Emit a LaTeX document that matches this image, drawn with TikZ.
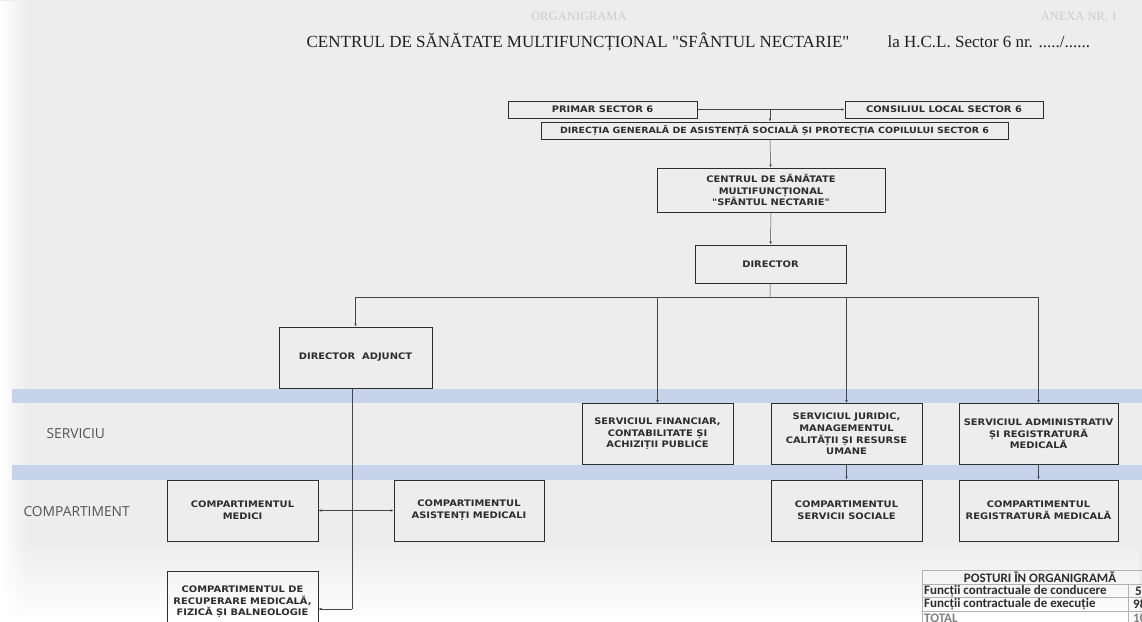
\documentclass[tikz,border=0pt]{standalone}
\usepackage{fontspec}
\setmainfont{Liberation Serif}[Ligatures=TeXOff]
\newfontfamily\boxfont[FakeStretch=1.1, Ligatures=TeXOff]{DejaVu Sans}
\newfontfamily\lblfont{Open Sans}
\newfontfamily\tabfont{Carlito}
\usepackage{tikz}
\usetikzlibrary{arrows.meta, positioning, calc, fadings}
\definecolor{paper}{RGB}{237,237,237}
\definecolor{band}{RGB}{198,211,234}
\definecolor{ink}{RGB}{45,45,45}

\begin{document}
\begin{tikzpicture}[x=1pt, y=-1pt,
  box/.style={draw=ink, line width=1pt, align=center, inner sep=1pt, text=ink,
    font=\boxfont\bfseries\fontsize{9}{11.6}\selectfont},
  unit/.style={box, minimum width=151pt, minimum height=61pt},
  link/.style={draw=gray!55!black, line width=0.5pt},
  tip/.style={link, -{Latex[length=3pt,width=2.6pt]}},
  lbl/.style={font=\lblfont\fontsize{13.8}{16}\selectfont, text=gray!65!black, anchor=west},
  tab/.style={font=\tabfont\bfseries\fontsize{13}{14}\selectfont, text=ink, inner sep=0pt}]
  \useasboundingbox (0,0) rectangle (1142,621);
  \clip (0,0) rectangle (1142,621);
  % paper and bands
  \fill[paper] (0,0) rectangle (1142,621);
  \fill[white, path fading=north] (0,540) rectangle (1142,621);
  \fill[white, path fading=east] (0,0) rectangle (28,621);
  \fill[band] (12,389) rectangle (1142,403);
  \fill[band] (12,465) rectangle (1142,480);

  % header
  \node[text=gray!40, font=\fontsize{12.5}{14}\selectfont] (organigrama) at (579,16) {ORGANIGRAMA};
  \node[text=gray!40, font=\fontsize{12.5}{14}\selectfont, anchor=east] (anexa) at (1121,16) {ANEXA NR. 1};
  \node[text=gray!25!black, font=\fontsize{17}{19}\selectfont] (titlu) at (578,42)
    {CENTRUL DE SĂNĂTATE MULTIFUNCȚIONAL "SFÂNTUL NECTARIE"};
  \node[text=gray!25!black, font=\fontsize{17}{19}\selectfont, anchor=west] (hcl) at (884,42)
    {la H.C.L. Sector 6 nr. ...../......};

  % top of the chart
  \node[box, minimum width=189pt, minimum height=17pt] (primar) at (602.5,109.5) {PRIMAR SECTOR 6};
  \node[box, minimum width=198pt, minimum height=17pt] (consiliul) at (944,109.5) {CONSILIUL LOCAL SECTOR 6};
  \node[box, minimum width=467pt, minimum height=17pt, font=\boxfont\bfseries\fontsize{8.6}{11}\selectfont] (dgaspc) at (774.5,130.5)
    {DIRECȚIA GENERALĂ DE ASISTENȚĂ SOCIALĂ ȘI PROTECȚIA COPILULUI SECTOR 6};
  \node[box, minimum width=228pt, minimum height=44pt] (centrul) at (771,190)
    {CENTRUL DE SĂNĂTATE\\MULTIFUNCȚIONAL\\"SFÂNTUL NECTARIE"};
  \node[box, minimum width=151pt, minimum height=38pt] (director) at (770.5,264) {DIRECTOR};
  \node[box, minimum width=153pt, minimum height=61pt] (adjunct) at (355.5,357.5) {DIRECTOR\ \ ADJUNCT};

  % servicii
  \node[lbl] (serviciu) at (43,434) {SERVICIU};
  \node[unit] (financiar) at (657.5,434) {SERVICIUL FINANCIAR,\\CONTABILITATE ȘI\\ACHIZIȚII PUBLICE};
  \node[unit] (juridic) at (846.5,434) {SERVICIUL JURIDIC,\\MANAGEMENTUL\\CALITĂȚII ȘI RESURSE\\UMANE};
  \node[unit, minimum width=159pt] (admin) at (1038.5,434) {SERVICIUL ADMINISTRATIV\\ȘI REGISTRATURĂ\\MEDICALĂ};

  % compartimente
  \node[lbl] (compartiment) at (20,512) {COMPARTIMENT};
  \node[unit] (medici) at (242.5,510.5) {COMPARTIMENTUL\\MEDICI};
  \node[unit, minimum width=150pt] (asistenti) at (469,510.5) {COMPARTIMENTUL\\ASISTENȚI MEDICALI};
  \node[unit] (sociale) at (846.5,510.5) {COMPARTIMENTUL\\SERVICII SOCIALE};
  \node[unit, minimum width=159pt] (registratura) at (1038.5,510.5) {COMPARTIMENTUL\\REGISTRATURĂ MEDICALĂ};
  \node[unit, minimum height=62pt] (recuperare) at (242.5,602)
    {COMPARTIMENTUL DE\\RECUPERARE MEDICALĂ,\\FIZICĂ ȘI BALNEOLOGIE};

  % connectors
  \coordinate (sus) at (770,109.5);
  \coordinate (bus) at (770,297);
  \coordinate (jos) at (352,609);
  \draw[tip] (primar) -- (consiliul);
  \draw[tip] (sus) -- (sus |- dgaspc.north);
  \draw[tip] (dgaspc.south -| sus) -- (centrul);
  \draw[tip] (centrul) -- (director);
  \draw[link] (director) -- (bus);
  \draw[link] (adjunct.north |- bus) -- (admin.north |- bus);
  \foreach \n in {adjunct, financiar, juridic, admin}
    \draw[tip] (\n.north |- bus) -- (\n.north);
  \draw[tip] (juridic) -- (sociale);
  \draw[tip] (admin) -- (registratura);
  \draw[link] (adjunct.south -| jos) -- (jos);
  \draw[tip] (jos) -- (recuperare.east |- jos);
  \draw[link, {Latex[length=3pt,width=2.6pt]}-{Latex[length=3pt,width=2.6pt]}] (medici) -- (asistenti);

  % posturi
  \draw[gray!60, line width=0.5pt] (922,570) rectangle (1160,626);
  \draw[gray!60, line width=0.5pt] (922,584) -- (1160,584) (922,597.5) -- (1160,597.5)
    (922,611) -- (1160,611) (1128,584) -- (1128,626);
  \node[tab] (posturi) at (1040,577) {POSTURI ÎN ORGANIGRAMĂ};
  \node[tab, anchor=west] (conducere) at (924,591) {Funcții contractuale de conducere};
  \node[tab, anchor=west] (nconducere) at (1135,591) {5};
  \node[tab, anchor=west] (executie) at (924,604.5) {Funcții contractuale de execuție};
  \node[tab, anchor=west] (nexecutie) at (1133,604.5) {98};
  \node[tab, anchor=west, text=gray] (total) at (924,618) {TOTAL};
  \node[tab, anchor=west, text=gray] (ntotal) at (1133,618) {103};
\end{tikzpicture}
\end{document}
